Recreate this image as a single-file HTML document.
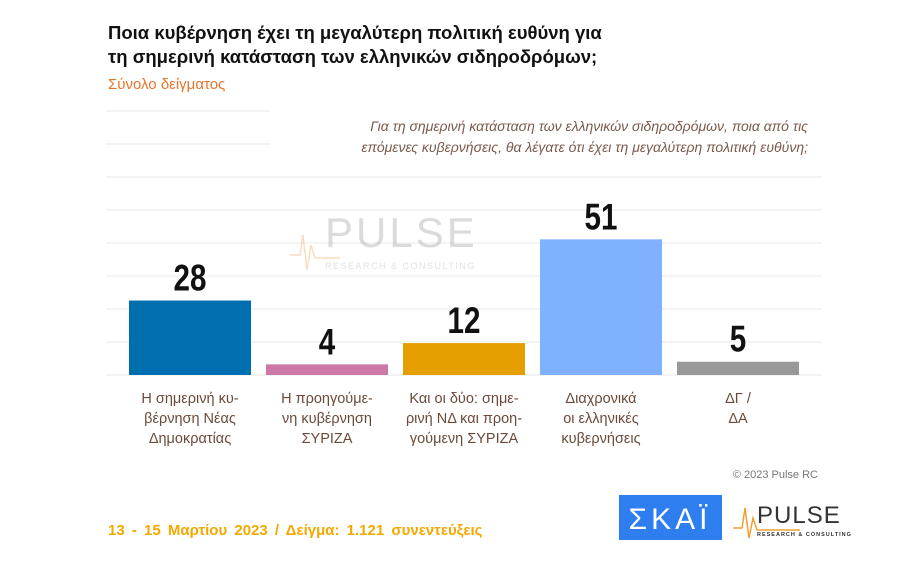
<!DOCTYPE html>
<html><head><meta charset="utf-8">
<style>
body{margin:0;width:910px;height:573px;background:#fff;overflow:hidden;font-family:"Liberation Sans","DejaVu Sans",sans-serif;}
svg{position:absolute;left:0;top:0}
</style></head><body>
<svg width="910" height="573">
<text x="108" y="39" font-size="18.5" font-weight="bold" fill="#111">Ποια κυβέρνηση έχει τη μεγαλύτερη πολιτική ευθύνη για</text>
<text x="108" y="63" font-size="18.5" font-weight="bold" fill="#111">τη σημερινή κατάσταση των ελληνικών σιδηροδρόμων;</text>
<text x="108" y="89" font-size="15" fill="#e8742a">Σύνολο δείγματος</text>
<g id="grid"></g>
<rect x="270" y="106" width="552" height="48" fill="#fff"/>
<text x="808" y="131" font-size="14" font-style="italic" fill="#7a5a4a" text-anchor="end">Για τη σημερινή κατάσταση των ελληνικών σιδηροδρόμων, ποια από τις</text>
<text x="808" y="152" font-size="14" font-style="italic" fill="#7a5a4a" text-anchor="end">επόμενες κυβερνήσεις, θα λέγατε ότι έχει τη μεγαλύτερη πολιτική ευθύνη;</text>
<g opacity="0.35">
<text x="325" y="247" font-size="42" fill="#999" letter-spacing="3">PULSE</text>
<text x="325" y="269" font-size="9" fill="#aaa" letter-spacing="1.5">RESEARCH &amp; CONSULTING</text>
<polyline points="290,255 300,255 303,235 307,270 311,245 315,258 340,258" fill="none" stroke="#f0a050" stroke-width="1.5"/>
</g>
<g id="bars"></g>
<text x="818" y="478" font-size="11" fill="#777" text-anchor="end">© 2023 Pulse RC</text>
<text x="108" y="535" font-size="15" font-weight="bold" fill="#f2a900" word-spacing="3">13 - 15  Μαρτίου  2023  /  Δείγμα:  1.121 συνεντεύξεις</text>
<g>
<rect x="619" y="495" width="103" height="45" fill="#2f7ef0"/>
<text x="670" y="529" font-size="30" fill="#fff" text-anchor="middle" letter-spacing="4">ΣΚΑΪ</text>
</g>
<g>
<text x="757" y="523" font-size="24" fill="#333" letter-spacing="1">PULSE</text>
<text x="757" y="536" font-size="5.5" fill="#333" font-weight="bold" letter-spacing="1">RESEARCH &amp; CONSULTING</text>
<polyline points="733,528 742,528 745,508 749,538 753,518 757,530 800,530" fill="none" stroke="#f0a030" stroke-width="1.5"/>
</g>
</svg>
<script>
const categories=[["Η σημερινή κυ-","βέρνηση Νέας","Δημοκρατίας"],["Η προηγούμε-","νη κυβέρνηση","ΣΥΡΙΖΑ"],["Και οι δύο: σημε-","ρινή ΝΔ και προη-","γούμενη ΣΥΡΙΖΑ"],["Διαχρονικά","οι ελληνικές","κυβερνήσεις"],["ΔΓ /","ΔΑ"]];
const values=[28,4,12,51,5];
const colors=["#006fb0","#cc79a7","#e69f00","#80b1ff","#999999"];
const NS="http://www.w3.org/2000/svg";
const base=375, pxPerUnit=2.66, x0=129, step=137, bw=122;
const y=v=>base-v*pxPerUnit;
const grid=document.getElementById('grid');
for(let i=0;i<9;i++){
 const l=document.createElementNS(NS,'line');
 const gy=111+i*33;
 l.setAttribute('x1',106);l.setAttribute('x2',822);l.setAttribute('y1',gy);l.setAttribute('y2',gy);
 l.setAttribute('stroke','#e8e8e8');l.setAttribute('stroke-width','1');
 
 
 grid.appendChild(l);
}
const g=document.getElementById('bars');
values.forEach((v,i)=>{
 const x=x0+i*step;
 const r=document.createElementNS(NS,'rect');
 r.setAttribute('x',x);r.setAttribute('y',y(v));r.setAttribute('width',bw);r.setAttribute('height',base-y(v));
 r.setAttribute('fill',colors[i]);
 
 
 g.appendChild(r);
 const t=document.createElementNS(NS,'text');
 t.setAttribute('x',x+bw/2);t.setAttribute('y',y(v)-10);
 t.setAttribute('text-anchor','middle');t.setAttribute('font-size','37');t.setAttribute('font-weight','bold');
 t.setAttribute('fill','#111');t.setAttribute('transform','translate('+(x+bw/2)+' 0) scale(0.8 1) translate('+(-(x+bw/2))+' 0)');
 t.textContent=v;
 
 
 g.appendChild(t);
 categories[i].forEach((line,j)=>{
  const c=document.createElementNS(NS,'text');
  c.setAttribute('x',x+bw/2);c.setAttribute('y',403+j*20);
  c.setAttribute('text-anchor','middle');c.setAttribute('font-size','14.5');c.setAttribute('fill','#6b4a3a');
  c.textContent=line;
  
  
  g.appendChild(c);
 });
});
</script>
</body></html>
